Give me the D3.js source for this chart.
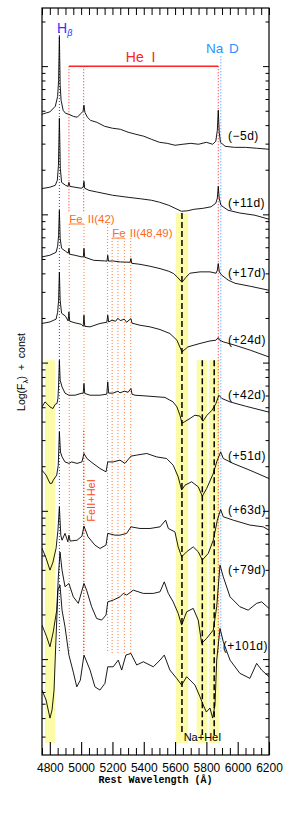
<!DOCTYPE html>
<html>
<head>
<meta charset="utf-8">
<script src="https://cdn.jsdelivr.net/npm/d3@7"></script>
<style>
  body { margin: 0; background: #fff; }
  svg { display: block; }
</style>
</head>
<body>
<svg id="chart" width="283" height="822"></svg>
<script>
// epochs (labels on the right)
const epochs = ["(\u22125d)", "(+11d)", "(+17d)", "(+24d)", "(+42d)", "(+51d)", "(+63d)", "(+79d)", "(+101d)"];
// where each epoch label sits, in log flux + const
const labelLevels = [3.527, 3.075, 2.603, 2.151, 1.780, 1.369, 1.005, 0.600, 0.088];

// spectra: [rest wavelength (A), log(F) + const]
const specM5 = [[4750,3.675],[4770,3.682],[4800,3.691],[4835,3.729],[4850,3.796],[4856,3.904],[4861,4.201],[4866,3.871],[4872,3.769],[4885,3.702],[4900,3.682],[4922,3.675],[4950,3.661],[4975,3.655],[5000,3.682],[5012,3.695],[5018,3.736],[5024,3.688],[5040,3.655],[5060,3.634],[5100,3.621],[5150,3.594],[5200,3.581],[5250,3.574],[5300,3.554],[5350,3.540],[5400,3.527],[5450,3.506],[5500,3.486],[5550,3.479],[5600,3.466],[5650,3.473],[5700,3.479],[5750,3.473],[5800,3.486],[5840,3.473],[5860,3.493],[5870,3.567],[5876,3.702],[5882,3.554],[5890,3.486],[5920,3.459],[5980,3.452],[6050,3.452],[6120,3.446],[6200,3.439]];
const specP11 = [[4750,3.174],[4800,3.183],[4835,3.196],[4848,3.230],[4855,3.331],[4861,3.648],[4867,3.311],[4875,3.216],[4900,3.196],[4916,3.189],[4922,3.216],[4928,3.189],[4960,3.183],[5000,3.176],[5013,3.183],[5018,3.223],[5023,3.176],[5050,3.162],[5100,3.151],[5200,3.129],[5300,3.115],[5380,3.105],[5450,3.095],[5500,3.082],[5560,3.061],[5600,3.041],[5640,3.021],[5680,3.024],[5720,3.034],[5780,3.041],[5830,3.051],[5860,3.075],[5870,3.109],[5876,3.189],[5882,3.109],[5893,3.061],[5938,3.028],[6014,3.009],[6110,2.994],[6200,2.967]];
const specP17 = [[4750,2.713],[4800,2.724],[4840,2.744],[4850,2.785],[4856,2.859],[4861,3.028],[4866,2.839],[4875,2.771],[4900,2.751],[4918,2.738],[4922,2.771],[4927,2.731],[4960,2.724],[5000,2.714],[5014,2.713],[5018,2.771],[5023,2.711],[5080,2.690],[5150,2.686],[5165,2.684],[5170,2.724],[5175,2.684],[5200,2.686],[5250,2.679],[5313,2.677],[5318,2.702],[5323,2.670],[5376,2.663],[5440,2.650],[5504,2.634],[5560,2.616],[5590,2.601],[5615,2.576],[5644,2.542],[5670,2.576],[5695,2.603],[5760,2.612],[5823,2.612],[5862,2.603],[5870,2.623],[5876,2.668],[5883,2.610],[5899,2.589],[5940,2.556],[5983,2.535],[6080,2.515],[6200,2.488]];
const specP24 = [[4750,2.264],[4800,2.274],[4840,2.293],[4850,2.340],[4856,2.421],[4861,2.610],[4866,2.421],[4875,2.333],[4900,2.313],[4917,2.281],[4922,2.342],[4927,2.279],[4961,2.268],[5000,2.259],[5013,2.245],[5018,2.320],[5023,2.245],[5057,2.241],[5120,2.264],[5164,2.272],[5170,2.320],[5176,2.274],[5197,2.286],[5220,2.279],[5235,2.299],[5250,2.283],[5276,2.293],[5290,2.272],[5318,2.297],[5325,2.266],[5376,2.252],[5440,2.241],[5504,2.223],[5567,2.196],[5612,2.151],[5644,2.072],[5682,2.106],[5759,2.129],[5823,2.146],[5861,2.151],[5876,2.169],[5885,2.151],[5908,2.140],[5983,2.117],[6080,2.084],[6200,2.038]];
const specP42 = [[4750,1.701],[4769,1.735],[4785,1.719],[4801,1.701],[4820,1.690],[4835,1.719],[4846,1.724],[4852,1.760],[4856,1.848],[4861,2.016],[4866,1.881],[4878,1.836],[4897,1.794],[4922,1.780],[4961,1.780],[5005,1.794],[5013,1.792],[5018,1.859],[5023,1.792],[5057,1.780],[5120,1.780],[5164,1.787],[5170,1.870],[5176,1.794],[5203,1.794],[5235,1.807],[5248,1.796],[5276,1.807],[5300,1.800],[5318,1.825],[5325,1.787],[5344,1.780],[5440,1.773],[5535,1.765],[5587,1.735],[5612,1.701],[5631,1.645],[5644,1.591],[5660,1.600],[5695,1.623],[5727,1.645],[5759,1.639],[5778,1.605],[5804,1.645],[5836,1.679],[5861,1.724],[5880,1.780],[5899,1.758],[5951,1.735],[6050,1.706],[6200,1.666]];
const specP51 = [[4750,1.274],[4776,1.241],[4801,1.185],[4814,1.187],[4822,1.207],[4844,1.241],[4854,1.308],[4861,1.533],[4868,1.396],[4878,1.364],[4897,1.330],[4922,1.320],[4940,1.330],[4974,1.320],[5005,1.330],[5018,1.387],[5037,1.353],[5076,1.320],[5120,1.286],[5159,1.263],[5170,1.330],[5205,1.330],[5248,1.342],[5280,1.320],[5318,1.369],[5355,1.376],[5419,1.387],[5482,1.364],[5546,1.353],[5588,1.308],[5620,1.229],[5642,1.140],[5663,1.173],[5706,1.196],[5748,1.162],[5774,1.099],[5802,1.151],[5844,1.252],[5866,1.330],[5891,1.398],[5908,1.353],[5970,1.320],[6078,1.274],[6200,1.218]];
const specP63 = [[4750,0.748],[4776,0.681],[4801,0.600],[4820,0.654],[4840,0.748],[4852,0.870],[4861,1.027],[4870,0.836],[4878,0.802],[4897,0.848],[4915,0.791],[4922,0.836],[4930,0.796],[4974,0.802],[5005,0.829],[5018,0.897],[5044,0.825],[5088,0.769],[5120,0.746],[5159,0.769],[5170,0.848],[5216,0.836],[5248,0.836],[5291,0.848],[5318,0.892],[5376,0.881],[5440,0.881],[5504,0.892],[5540,0.937],[5557,0.881],[5599,0.858],[5620,0.757],[5642,0.690],[5674,0.724],[5716,0.757],[5748,0.724],[5774,0.668],[5812,0.713],[5844,0.802],[5870,0.937],[5891,1.009],[5908,0.960],[5972,0.937],[6078,0.904],[6163,0.892],[6200,0.870]];
const specP79 = [[4750,0.229],[4780,0.150],[4801,0.083],[4822,0.184],[4844,0.330],[4855,0.566],[4865,0.722],[4878,0.600],[4897,0.488],[4922,0.510],[4950,0.420],[4982,0.376],[5018,0.510],[5035,0.465],[5067,0.353],[5099,0.274],[5131,0.263],[5159,0.297],[5170,0.386],[5205,0.398],[5248,0.420],[5269,0.443],[5291,0.432],[5333,0.465],[5397,0.443],[5461,0.443],[5504,0.454],[5531,0.521],[5557,0.443],[5588,0.386],[5620,0.308],[5642,0.229],[5674,0.319],[5716,0.342],[5748,0.263],[5770,0.106],[5802,0.140],[5844,0.196],[5866,0.353],[5887,0.634],[5908,0.555],[5951,0.420],[6014,0.353],[6067,0.330],[6121,0.376],[6153,0.386],[6200,0.342]];
const specP101 = [[4750,-0.209],[4776,-0.276],[4801,-0.398],[4814,-0.344],[4827,-0.209],[4839,0.128],[4852,0.465],[4865,0.499],[4878,0.330],[4897,0.218],[4922,0.027],[4950,-0.088],[4972,-0.187],[4995,-0.142],[5018,0.027],[5057,-0.074],[5088,-0.187],[5120,-0.209],[5152,-0.164],[5170,-0.052],[5205,-0.052],[5237,-0.007],[5259,-0.074],[5286,0.027],[5318,0.038],[5355,-0.040],[5397,-0.018],[5461,-0.052],[5504,-0.007],[5531,0.027],[5567,-0.074],[5610,-0.130],[5642,-0.175],[5674,-0.119],[5727,-0.175],[5759,-0.254],[5780,-0.310],[5800,-0.357],[5823,-0.330],[5840,-0.398],[5855,-0.310],[5866,-0.007],[5887,0.207],[5908,0.117],[5951,-0.007],[6014,-0.096],[6078,-0.130],[6121,-0.029],[6153,-0.074],[6200,-0.119]];
const spectra = [specM5, specP11, specP17, specP24, specP42, specP51, specP63, specP79, specP101];

// line identifications (A)
const hBeta = 4861;
const heLines = [4922, 5016, 5876];
const naD = 5892;
const fe42 = [4924, 5018, 5169];
const fe4849 = [5198, 5235, 5276, 5317];
// shaded absorption regions [lo, hi, top level], dashed marks
const bands = [[4769, 4833, 2.016], [5604, 5684, 3.009], [5738, 5804, 2.016], [5816, 5880, 2.016]];
const dashes = [[5644, 3.009], [5774, 2.016], [5850, 2.016]];

const xTicksMajor = [4800, 5000, 5200, 5400, 5600, 5800, 6000, 6200];
const xTicksMinor = d3.range(4750, 6201, 50).filter(v => v % 200 !== 0);

const mLeft = 42, mRight = 269, mTop = 8, mBottom = 755;

const svg = d3.select("#chart");

const x = d3.scaleLinear().domain([4750, 6200]).range([mLeft, mRight]);
const y = d3.scaleLinear().domain([-0.647, 4.392]).range([mBottom, mTop]);
const yLog = d3.scaleLog().domain([Math.pow(10, -0.647), Math.pow(10, 4.392)]).range([mBottom, mTop]);

svg.append("defs").append("clipPath").attr("id", "clip")
    .append("rect").attr("x", mLeft).attr("y", mTop).attr("width", mRight - mLeft).attr("height", mBottom - mTop);

const plot = svg.append("g").attr("clip-path", "url(#clip)");

// yellow bands
plot.selectAll("rect.band")
    .data(bands)
    .enter()
    .append("rect")
    .attr("class", "band")
    .attr("x", d => x(d[0]))
    .attr("width", d => x(d[1]) - x(d[0]))
    .attr("y", d => y(d[2]))
    .attr("height", d => y(-0.566) - y(d[2]))
    .attr("fill", "#fbfba8");

// dotted identification lines
function vline(w, u1, u2, color, dash, width) {
    plot.append("line")
        .attr("x1", x(w)).attr("x2", x(w))
        .attr("y1", y(u1)).attr("y2", y(u2))
        .attr("stroke", color)
        .attr("stroke-width", width || 1)
        .attr("stroke-dasharray", dash);
}

const lineBottom = 0.040;
fe42.forEach(w => vline(w, 2.935, lineBottom, "#ff7a33", "1,2"));
fe4849.forEach(w => vline(w, 2.84, lineBottom, "#ff7a33", "1,2"));
vline(hBeta, 4.23, lineBottom, "#3333ff", "1,2");
vline(heLines[0], 3.999, 3.007, "#ff2222", "1,2");
vline(heLines[1], 3.999, 3.007, "#ff2222", "1,2");
vline(5016, 1.54, lineBottom, "#ff2222", "1,2", 1.2);
vline(heLines[2], 3.999, lineBottom, "#ff2222", "1,2");
vline(naD, 4.066, lineBottom, "#2f8fff", "1,2");

// dashed marks
dashes.forEach(d => vline(d[0], d[1], -0.512, "#000", "6,3", 1.5));

// spectra
const line = d3.line().x(d => x(d[0])).y(d => y(d[1]));
plot.selectAll("path.spec")
    .data(spectra)
    .enter()
    .append("path")
    .attr("class", "spec")
    .attr("d", line)
    .attr("fill", "none")
    .attr("stroke", "#000")
    .attr("stroke-width", 0.9)
    .attr("stroke-linejoin", "round");

// He I bracket
svg.append("line")
    .attr("x1", x(heLines[0])).attr("x2", x(heLines[2]))
    .attr("y1", y(3.999)).attr("y2", y(3.999))
    .attr("stroke", "#ff2222").attr("stroke-width", 1.3);

// Fe II underlines
svg.append("line")
    .attr("x1", x(fe42[0])).attr("x2", x(fe42[1]))
    .attr("y1", y(2.935)).attr("y2", y(2.935))
    .attr("stroke", "#ff7a33").attr("stroke-width", 1);
svg.append("line")
    .attr("x1", x(fe4849[0])).attr("x2", x(fe4849[2]))
    .attr("y1", y(2.84)).attr("y2", y(2.84))
    .attr("stroke", "#ff7a33").attr("stroke-width", 1);

const sans = "'Liberation Sans', Arial, sans-serif";

// line labels
const hb = svg.append("text")
    .attr("x", 57).attr("y", 33)
    .attr("font-family", sans).attr("font-size", 14)
    .attr("fill", "#3333ff");
hb.append("tspan").text("H");
hb.append("tspan").attr("font-size", 9).attr("dy", 3).attr("font-style", "italic").text("\u03b2");

svg.append("text")
    .attr("x", x(5380)).attr("y", 62)
    .attr("text-anchor", "middle")
    .attr("font-family", sans).attr("font-size", 14)
    .attr("word-spacing", 4)
    .attr("fill", "#ff2222")
    .text("He I");

svg.append("text")
    .attr("x", 206).attr("y", 53)
    .attr("font-family", sans).attr("font-size", 13.5)
    .attr("word-spacing", 2)
    .attr("fill", "#2f8fff")
    .text("Na D");

svg.append("text")
    .attr("x", x(fe42[0])).attr("y", y(2.94))
    .attr("font-family", sans).attr("font-size", 11.5)
    .attr("word-spacing", 2)
    .attr("fill", "#ff6a1a")
    .text("Fe II(42)");

svg.append("text")
    .attr("x", x(fe4849[0])).attr("y", y(2.845))
    .attr("font-family", sans).attr("font-size", 11.5)
    .attr("word-spacing", 1)
    .attr("fill", "#ff6a1a")
    .text("Fe II(48,49)");

svg.append("text")
    .attr("transform", `translate(${x(5018) + 11},${y(1.07)}) rotate(-90)`)
    .attr("text-anchor", "middle")
    .attr("font-family", sans).attr("font-size", 11)
    .attr("fill", "#ff4a1a")
    .text("FeII+HeI");

svg.append("text")
    .attr("x", x(5775)).attr("y", 741)
    .attr("text-anchor", "middle")
    .attr("font-family", sans).attr("font-size", 11)
    .attr("fill", "#000")
    .text("Na+HeI");

// epoch labels
svg.selectAll("text.epoch")
    .data(epochs)
    .enter()
    .append("text")
    .attr("class", "epoch")
    .attr("x", (d, i) => i === 8 ? x(5905) : x(5938))
    .attr("y", (d, i) => y(labelLevels[i]))
    .attr("dy", "0.35em")
    .attr("font-family", sans).attr("font-size", 12)
    .attr("letter-spacing", 0.5)
    .attr("fill", "#000")
    .text(d => d);

// axes
const axisB = svg.append("g")
    .attr("transform", `translate(0,${mBottom})`)
    .call(d3.axisBottom(x).tickValues(xTicksMajor).tickSize(-13).tickPadding(8.5).tickFormat(d3.format("d")));
axisB.select(".domain").remove();
axisB.selectAll("text").attr("font-family", sans).attr("font-size", 12).attr("fill", "#000");
axisB.selectAll("line").attr("stroke-width", 1.1);

const axisBm = svg.append("g")
    .attr("transform", `translate(0,${mBottom})`)
    .call(d3.axisBottom(x).tickValues(xTicksMinor).tickSize(-7).tickFormat(""));
axisBm.select(".domain").remove();

const axisT = svg.append("g")
    .attr("transform", `translate(0,${mTop})`)
    .call(d3.axisTop(x).tickValues(xTicksMajor.concat(xTicksMinor)).tickSize(-7).tickFormat(""));
axisT.select(".domain").remove();

const yt = yLog.ticks();
const isMajor = v => Math.abs(Math.log10(v) - Math.round(Math.log10(v))) < 1e-6;

const axisL = svg.append("g")
    .attr("transform", `translate(${mLeft},0)`)
    .call(d3.axisLeft(yLog).tickValues(yt).tickSize(-3.5).tickFormat(""));
axisL.select(".domain").remove();
axisL.selectAll(".tick line").attr("x2", d => isMajor(d) ? 6 : 3.5);

const axisR = svg.append("g")
    .attr("transform", `translate(${mRight},0)`)
    .call(d3.axisRight(yLog).tickValues(yt).tickSize(-3.5).tickFormat(""));
axisR.select(".domain").remove();
axisR.selectAll(".tick line").attr("x2", d => isMajor(d) ? -6 : -3.5);

svg.append("rect")
    .attr("x", mLeft).attr("y", mTop)
    .attr("width", mRight - mLeft).attr("height", mBottom - mTop)
    .attr("fill", "none").attr("stroke", "#000").attr("stroke-width", 1.2);

// axis titles
svg.append("text")
    .attr("x", (mLeft + mRight) / 2).attr("y", 783)
    .attr("text-anchor", "middle")
    .attr("font-family", "'Liberation Mono', 'DejaVu Sans Mono', monospace")
    .attr("font-weight", "bold")
    .attr("font-size", 10)
    .attr("fill", "#000")
    .text("Rest Wavelength (\u00c5)");

const yt2 = svg.append("text")
    .attr("transform", `translate(25,372) rotate(-90)`)
    .attr("text-anchor", "middle")
    .attr("font-family", sans).attr("font-size", 10.5)
    .attr("fill", "#000");
yt2.append("tspan").text("Log(F");
yt2.append("tspan").attr("font-size", 8).attr("dy", 2.5).text("\u03bb");
yt2.append("tspan").attr("dy", -2.5).attr("xml:space", "preserve").text(")  +  const");
</script>
</body>
</html>
